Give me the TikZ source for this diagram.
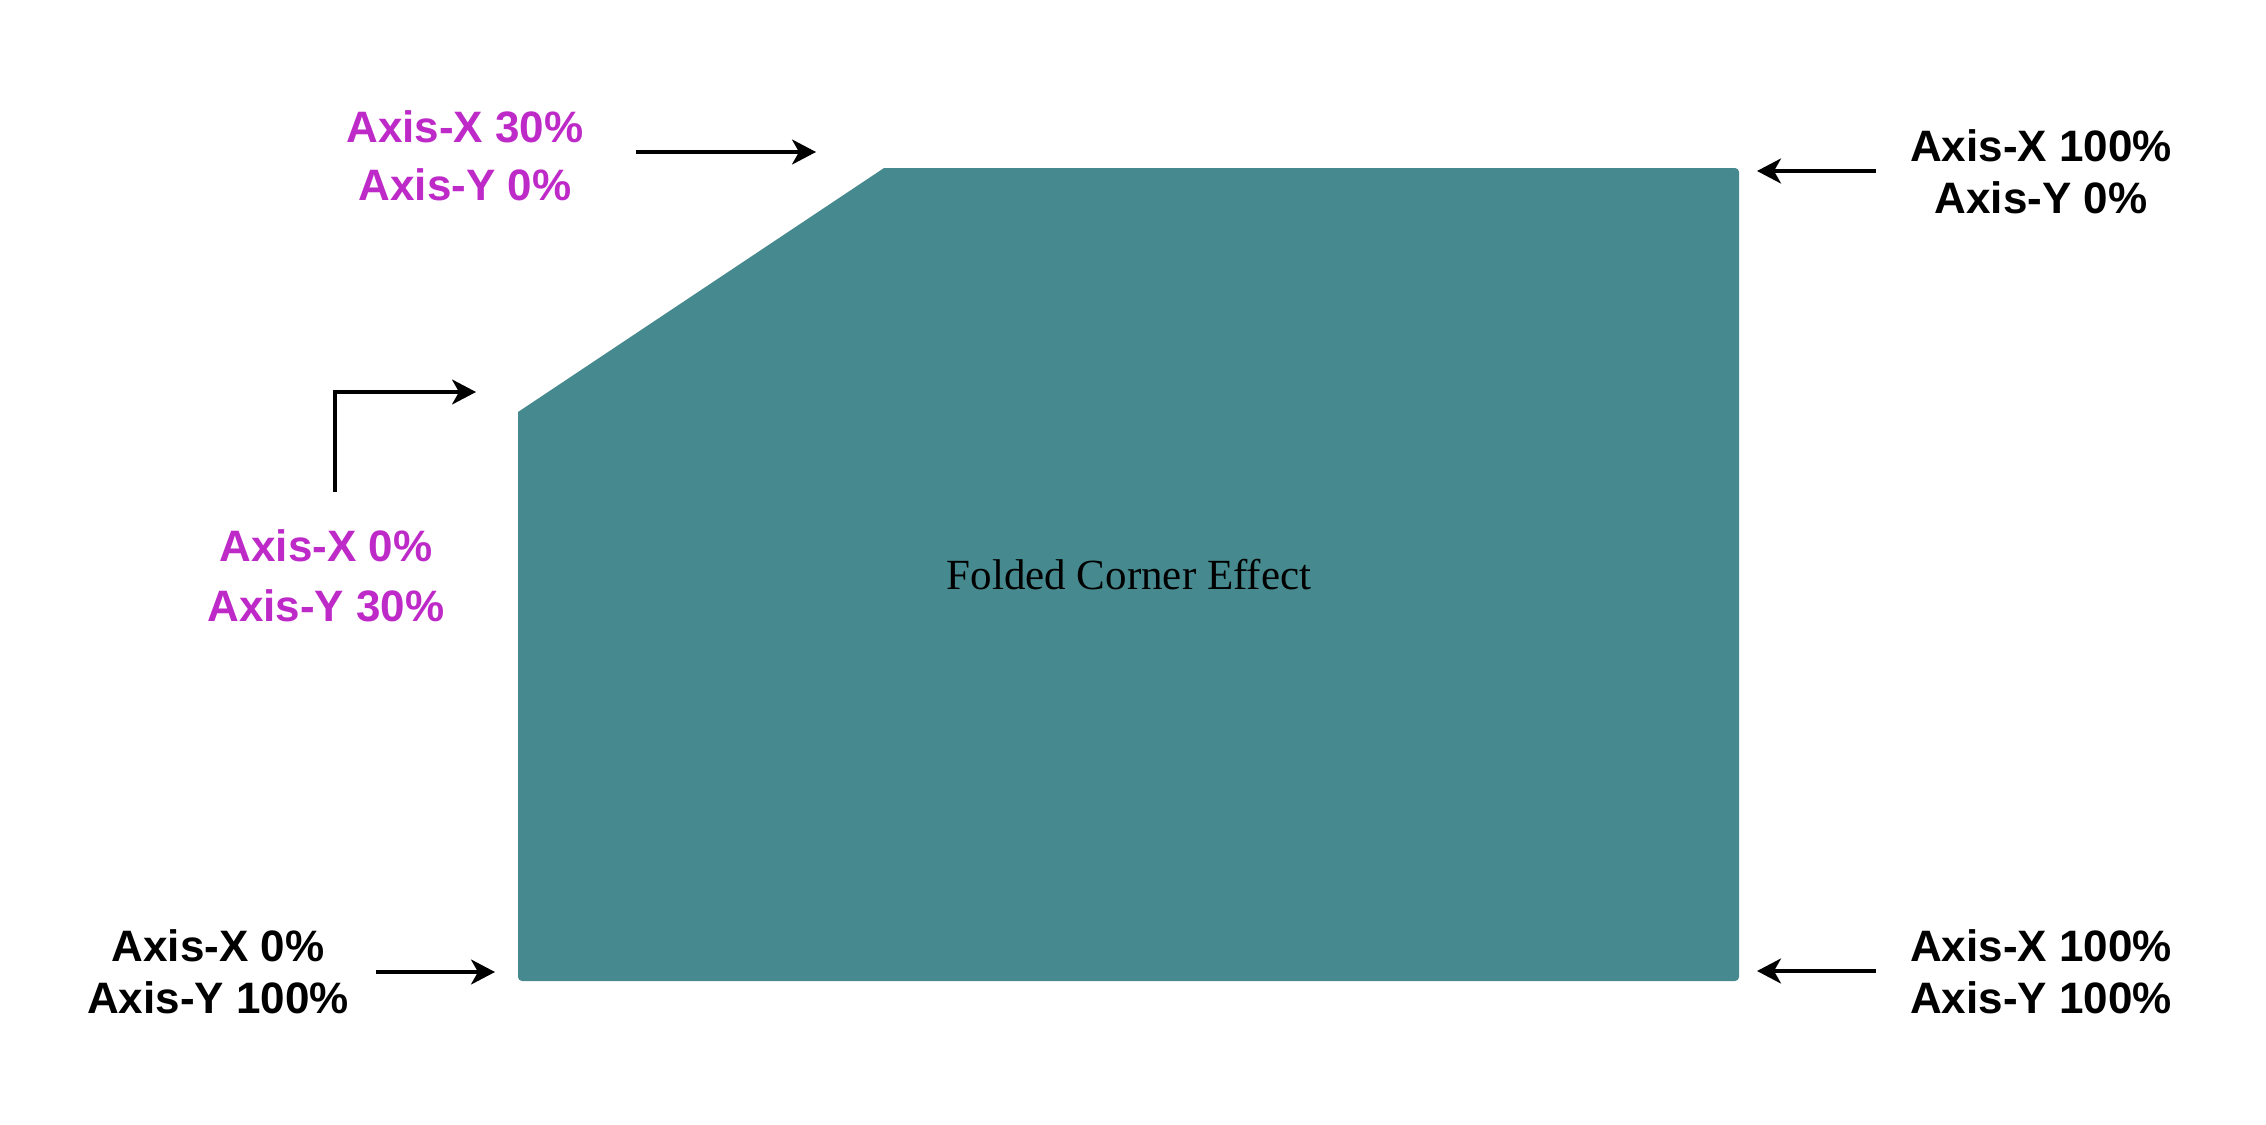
\documentclass[tikz,border=0pt]{standalone}
\usepackage{fontspec}
\setmainfont{Liberation Serif}
\newfontfamily\labelfont{Liberation Sans}
\usetikzlibrary{arrows.meta}
\definecolor{tealfill}{RGB}{70,137,142}
\definecolor{magentatext}{RGB}{190,42,200}
\tikzset{
  lbl/.style={anchor=base, inner sep=0pt, font=\labelfont\bfseries\fontsize{44}{53}\selectfont},
  pinklbl/.style={lbl, text=magentatext},
  blacklbl/.style={lbl, text=black},
  pointer/.style={line width=3.3pt, -{Stealth[length=24pt,width=25pt,inset=7pt]}},
}
\begin{document}
\begin{tikzpicture}[x=1pt,y=-1pt]
\useasboundingbox (0,0) rectangle (2266,1124);
% shape: sharp corners at the chamfer, slightly rounded elsewhere (y axis points down)
\fill[tealfill] (884,168) -- (1735,168) arc[start angle=270,end angle=360,radius=4]
  -- (1739,977) arc[start angle=0,end angle=90,radius=4]
  -- (522,981) arc[start angle=90,end angle=180,radius=4]
  -- (518,412) -- cycle;
\node[anchor=base, inner sep=0pt, font=\fontsize{43}{52}\selectfont] (title) at (1129,589) {Folded Corner Effect};
% labels
\node[pinklbl] (tl1) at (465,142) {Axis-X 30\%};
\node[pinklbl] (tl2) at (465,200) {Axis-Y 0\%};
\node[blacklbl] (tr1) at (2041,161) {Axis-X 100\%};
\node[blacklbl] (tr2) at (2041,213) {Axis-Y 0\%};
\node[pinklbl] (ml1) at (326,561) {Axis-X 0\%};
\node[pinklbl] (ml2) at (326,621) {Axis-Y 30\%};
\node[blacklbl] (bl1) at (218,961) {Axis-X 0\%};
\node[blacklbl] (bl2) at (218,1013) {Axis-Y 100\%};
\node[blacklbl] (br1) at (2041,961) {Axis-X 100\%};
\node[blacklbl] (br2) at (2041,1013) {Axis-Y 100\%};
% arrow ends
\coordinate (a1s) at (636,152); \coordinate (a1e) at (816,152);
\coordinate (a2s) at (1876,171); \coordinate (a2e) at (1757,171);
\coordinate (a3s) at (335,492); \coordinate (a3e) at (476,392);
\coordinate (a4s) at (376,972); \coordinate (a4e) at (495,972);
\coordinate (a5s) at (1876,971); \coordinate (a5e) at (1757,971);
\draw[pointer] (a1s) -- (a1e);
\draw[pointer] (a2s) -- (a2e);
\draw[pointer] (a3s) |- (a3e);
\draw[pointer] (a4s) -- (a4e);
\draw[pointer] (a5s) -- (a5e);
\end{tikzpicture}
\end{document}
